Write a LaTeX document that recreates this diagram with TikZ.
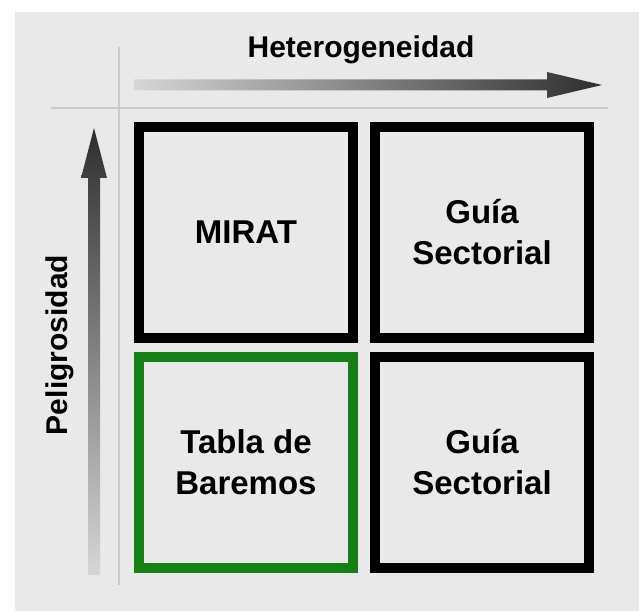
\documentclass[tikz,border=0pt]{standalone}
\usepackage{fontspec}
\setmainfont{Liberation Sans}
\definecolor{bggray}{HTML}{E9E9E9}
\definecolor{linegray}{HTML}{CACACA}
\definecolor{boxgreen}{RGB}{22,128,22}
\definecolor{arrdark}{HTML}{2E2E2E}
\definecolor{arrlight}{HTML}{D6D6D6}
\tikzset{
  cell/.style={draw=black, line width=10pt, fill=bggray, minimum width=214pt, minimum height=211pt,
    align=center, inner sep=0pt, font=\fontsize{33}{41}\selectfont\bfseries},
  greencell/.style={cell, draw=boxgreen},
  axislabel/.style={font=\fontsize{30}{34}\selectfont\bfseries, inner sep=0pt, anchor=base},
  guide/.style={draw=linegray, line width=1.5pt}
}
\begin{document}
\begin{tikzpicture}[x=1pt,y=1pt]
\useasboundingbox (0,0) rectangle (639,611);
\fill[white] (0,0) rectangle (639,611);
\fill[bggray] (15,0) rectangle (639,599);
% guide lines
\coordinate (hl1) at (51,503);
\coordinate (hl2) at (608,503);
\coordinate (vl1) at (119,564);
\coordinate (vl2) at (119,26);
\draw[guide] (hl1) -- (hl2);
\draw[guide] (vl1) -- (vl2);
% horizontal arrow
\coordinate (hs) at (134,526);
\coordinate (ht) at (602,526);
\shade[left color=arrlight, right color=arrdark]
  (134,520.5) -- (547,520.5) -- (547,513) -- (ht) -- (547,539) -- (547,531.5) -- (134,531.5) -- cycle;
% vertical arrow
\coordinate (vs) at (94,36);
\coordinate (vt) at (94,483);
\shade[bottom color=arrlight, top color=arrdark]
  (88,36) -- (88,433) -- (81,433) -- (vt) -- (107,433) -- (100,433) -- (100,36) -- cycle;
% labels
\node[axislabel] (het) at (361,553) {Heterogeneidad};
\node[axislabel, rotate=90] (pel) at (67,266) {Peligrosidad};
% cells
\node[cell] (mirat) at (246,378.5) {MIRAT};
\node[cell] (guia1) at (482,378.5) {Guía\\Sectorial};
\node[greencell] (tabla) at (246,149) {Tabla de\\Baremos};
\node[cell] (guia2) at (482,149) {Guía\\Sectorial};
\end{tikzpicture}
\end{document}
